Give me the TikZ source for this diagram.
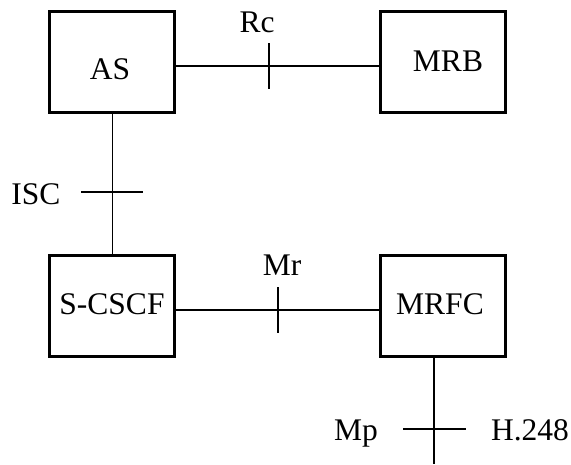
\documentclass[tikz,border=0pt]{standalone}
\usepackage{fontspec}
\setmainfont{Liberation Serif}
\begin{document}
\begin{tikzpicture}[x=1pt,y=-1pt,
  box/.style={draw,line width=3pt,minimum width=125pt,minimum height=101pt,inner sep=0pt},
  lbl/.style={anchor=base,inner sep=0pt,font=\fontsize{31.5}{38}\selectfont},
  conn/.style={line width=1.6pt}]
\useasboundingbox (0,0) rectangle (571,464);
% boxes
\node[box] (as) at (112.3,62) {};
\node[box] (mrb) at (442.8,62) {};
\node[box] (scscf) at (112.3,306) {};
\node[box] (mrfc) at (442.8,306) {};
% box texts
\node[lbl] (asT) at (110,79) {AS};
\node[lbl] (mrbT) at (448,71) {MRB};
\node[lbl] (scscfT) at (112,314) {S-CSCF};
\node[lbl] (mrfcT) at (440,314) {MRFC};
% reference point coordinates
\coordinate (rc) at (269,66);
\coordinate (isc) at (112.3,192);
\coordinate (mr) at (278,310);
\coordinate (mp) at (434,429);
\coordinate (mpEnd) at (434,464);
% connectors
\draw[conn] (as.east |- rc) -- (mrb.west |- rc);
\draw[conn] (as.south) -- (scscf.north);
\draw[conn] (scscf.east |- mr) -- (mrfc.west |- mr);
\draw[conn] (mrfc.south -| mp) -- (mpEnd);
% ticks
\draw[conn] ([yshift=23pt]rc) -- ([yshift=-23pt]rc);
\draw[conn] ([xshift=-31pt]isc) -- ([xshift=31pt]isc);
\draw[conn] ([yshift=23pt]mr) -- ([yshift=-23pt]mr);
\draw[conn] ([xshift=-31pt]mp) -- ([xshift=32pt]mp);
% interface labels
\node[lbl] (rcT) at (257,32) {Rc};
\node[lbl] (iscT) at (36,204) {ISC};
\node[lbl] (mrT) at (282,275) {Mr};
\node[lbl] (mpT) at (356,440) {Mp};
\node[lbl] (h248T) at (530,440) {H.248};
\end{tikzpicture}
\end{document}
